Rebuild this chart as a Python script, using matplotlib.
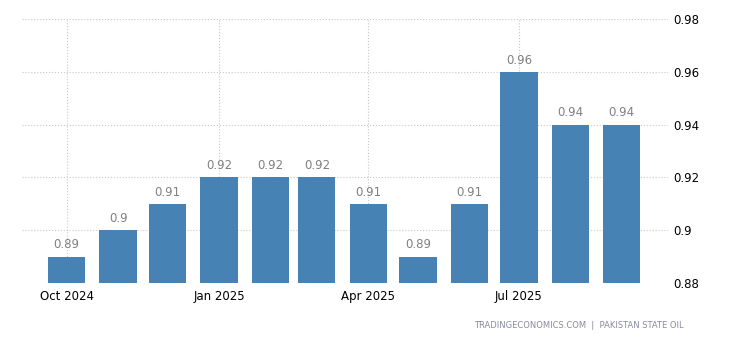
import pandas as pd
import numpy as np
import matplotlib.pyplot as plt
import matplotlib.dates as mdates

months = pd.date_range("2024-10-01", "2025-09-01", freq="MS")
values = [0.89, 0.9, 0.91, 0.92, 0.92, 0.92, 0.91, 0.89, 0.91, 0.96, 0.94, 0.94]
labels = ["0.89", "0.9", "0.91", "0.92", "0.92", "0.92", "0.91", "0.89", "0.91", "0.96", "0.94", "0.94"]
yticks = [0.88, 0.9, 0.92, 0.94, 0.96, 0.98]
ytick_labels = ["0.88", "0.9", "0.92", "0.94", "0.96", "0.98"]
xtick_dates = pd.to_datetime(["2024-10-01", "2025-01-01", "2025-04-01", "2025-07-01"])
xtick_labels = ["Oct 2024", "Jan 2025", "Apr 2025", "Jul 2025"]

fig = plt.figure(figsize=(7.3, 3.4), dpi=100)
ax = fig.add_axes([22 / 730, 1 - 283 / 340, 646 / 730, 264 / 340])

ax.bar(months, values, width=22.5, color="#4682b4", zorder=2)
for d, v, t in zip(months, values, labels):
    ax.text(d, v + 0.002, t, ha="center", va="bottom", fontsize=8.5, color="#808080")

ax.set_ylim(0.88, 0.98)
ax.set_xlim(months[0] - pd.Timedelta(days=27), months[-1] + pd.Timedelta(days=28))
ax.yaxis.tick_right()
ax.set_yticks(yticks)
ax.set_yticklabels(ytick_labels)
ax.set_xticks(xtick_dates)
ax.set_xticklabels(xtick_labels)
ax.tick_params(axis="both", length=0, labelsize=8.5, colors="black")
ax.tick_params(axis="y", pad=4)
ax.tick_params(axis="x", pad=5)
ax.grid(True, linestyle=":", color="#c8c8c8", linewidth=0.8, zorder=0)
ax.set_axisbelow(True)
for s in ax.spines.values():
    s.set_visible(False)

fig.text(684 / 730, 1 - 325 / 340, "TRADINGECONOMICS.COM  |  PAKISTAN STATE OIL",
         ha="right", va="center", fontsize=6, color="#8a8aa0")

fig.savefig("out.png", dpi=100)
